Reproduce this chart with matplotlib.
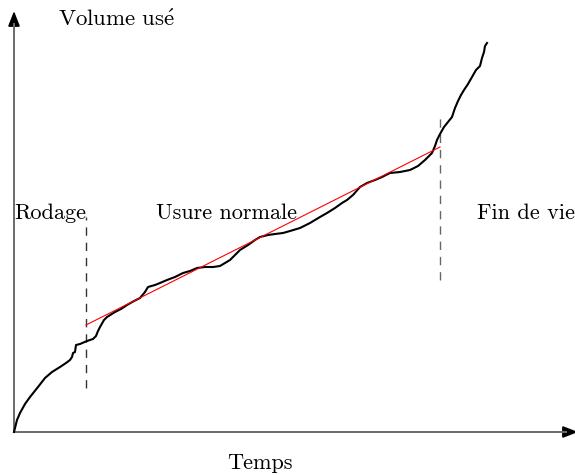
import matplotlib
matplotlib.use('Agg')
import matplotlib.pyplot as plt

plt.rcParams['font.family'] = ['cmr10', 'DejaVu Serif']
plt.rcParams['mathtext.fontset'] = 'cm'

# Courbe d'usure : temps / volume usé
temps = [0, 1, 3, 6, 11, 16, 24, 31, 38, 46, 52, 56, 58, 59, 61, 62, 66, 73, 79, 82, 84, 86,
         90, 93, 101, 107, 113, 120, 126, 131, 134, 141, 146, 153, 161, 169, 176, 183, 191,
         199, 206, 211, 216, 221, 226, 234, 241, 246, 254, 261, 269, 276, 286, 296, 306, 313,
         321, 328, 333, 339, 346, 353, 361, 368, 376, 386, 396, 404, 411, 418, 421, 423, 426,
         430, 434, 438, 441, 444, 447, 450, 454, 458, 462, 466, 468, 470, 471, 473]
volume = [0, 4, 12, 19, 28, 35, 45, 54, 60, 65, 69, 72, 75, 79, 80, 87, 88, 91, 93, 96, 101,
          105, 112, 115, 120, 123, 127, 131, 134, 140, 145, 147, 149, 152, 155, 159, 161, 164,
          165, 165, 166, 169, 172, 177, 182, 187, 192, 195, 197, 198, 199, 201, 204, 209, 215,
          219, 224, 229, 232, 237, 245, 249, 252, 255, 259, 260, 262, 266, 272, 279, 286, 292,
          298, 305, 310, 315, 324, 331, 337, 342, 348, 355, 362, 366, 374, 380, 386, 389]

# Droite d'usure normale
droite_t = [72, 426]
droite_v = [107, 285]

# Limites des phases
phases_t = [72, 426]
phases_v = [(44, 215), (152, 320)]

fig = plt.figure(figsize=(5.75, 4.75), dpi=100)
ax = fig.add_axes([0, 0, 1, 1])
ax.set_xlim(-14, 561)
ax.set_ylim(-43, 432)
ax.axis('off')

# Axes avec flèches
fleche = dict(arrowstyle='-|>,head_length=0.9,head_width=0.35', color='black',
              lw=1.3, shrinkA=0, shrinkB=0)
ax.annotate('', xy=(564, 0), xytext=(0, 0), arrowprops=fleche, annotation_clip=False)
ax.annotate('', xy=(0, 421), xytext=(0, 0), arrowprops=fleche, annotation_clip=False)
ax.plot([0, 552], [0, 0], color='#707070', lw=1.4, zorder=3)
ax.plot([0, 0], [0, 408], color='#707070', lw=1.4, zorder=3)

ax.plot(temps, volume, color='black', lw=1.5, zorder=4)
ax.plot(droite_t, droite_v, color='red', lw=0.8, zorder=5)

ax.plot([phases_t[0]] * 2, phases_v[0], color='#333333', lw=1.0, dashes=(6, 5))
ax.plot([phases_t[1]] * 2, phases_v[1], color='#666666', lw=1.0, dashes=(6, 5))

fs = 16
ax.text(102, 413, r'$\mathrm{Volume\ us\acute{e}}$', fontsize=fs + 0.5, ha='center', va='center')
ax.text(36, 219, 'Rodage', fontsize=fs, ha='center', va='center')
ax.text(213, 219, 'Usure normale', fontsize=fs, ha='center', va='center')
ax.text(512, 219, 'Fin de vie', fontsize=fs, ha='center', va='center')
ax.text(246, -31, 'Temps', fontsize=fs, ha='center', va='center')

fig.savefig('out.png', dpi=100)
